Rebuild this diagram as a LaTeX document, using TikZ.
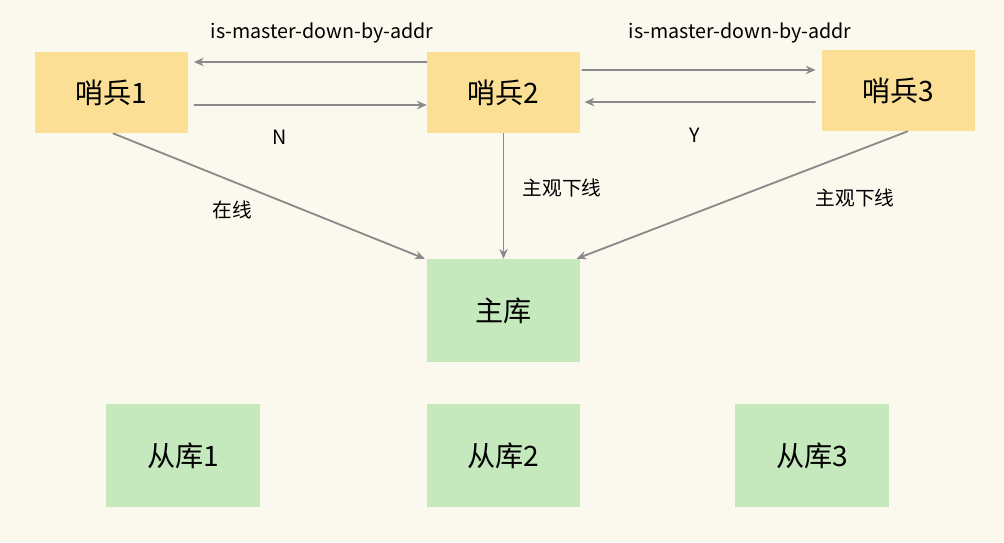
\documentclass[tikz,border=0pt]{standalone}
\usepackage{fontspec}
\setmainfont{Noto Sans CJK SC}
\usetikzlibrary{arrows.meta}
\definecolor{bg}{HTML}{FBF8EE}
\definecolor{yel}{HTML}{FBDF94}
\definecolor{grn}{HTML}{C5E8BD}
\definecolor{arr}{HTML}{8A8A8A}
\begin{document}
\begin{tikzpicture}[x=0.025cm,y=-0.025cm,
  sent/.style={fill=yel,minimum width=153*0.711pt,minimum height=81*0.711pt,font=\fontsize{20}{24}\selectfont,inner sep=0},
  db/.style={fill=grn,minimum width=154*0.711pt,minimum height=103*0.711pt,font=\fontsize{20}{24}\selectfont,inner sep=0},
  con/.style={draw=arr,line width=1.3pt,-{Stealth[length=7pt,width=6pt]}},
  lab/.style={font=\fontsize{14}{17}\selectfont}]
\fill[bg] (0,0) rectangle (1004,542);
\useasboundingbox (0,0) rectangle (1004,542);
\node[sent] (s1) at (111.5,92.5) {哨兵1};
\node[sent] (s2) at (503.5,92.5) {哨兵2};
\node[sent] (s3) at (898,90.5) {哨兵3};
\node[db] (m) at (503.5,310.5) {主库};
\node[db] (r1) at (183,455.5) {从库1};
\node[db] (r2) at (503.5,455.5) {从库2};
\node[db] (r3) at (812,455.5) {从库3};
\draw[con,shorten >=4pt] ([yshift=21.7pt]s2.west) -- ([yshift=21.7pt]s1.east);
\draw[con,shorten <=4pt] ([yshift=-8.9pt]s1.east) -- ([yshift=-8.9pt]s2.west);
\draw[con,shorten <=1pt,shorten >=4pt] ([yshift=16pt]s2.east) -- ([yshift=14.6pt]s3.west);
\draw[con,shorten <=4pt,shorten >=3pt] ([yshift=-8.2pt]s3.west) -- ([yshift=-6.8pt]s2.east);
\node[lab] (l1) at (322,33) {is-master-down-by-addr};
\node[lab] (l2) at (740,33) {is-master-down-by-addr};
\node[lab] (ln) at (280,137) {N};
\node[lab] (ly) at (695,135) {Y};
\draw[con] ([xshift=1pt]s1.south) -- ([xshift=-1pt]m.north west);
\draw[con] (s2.south) -- (m.north);
\draw[con] ([xshift=7pt]s3.south) -- ([xshift=-3pt]m.north east);
\node[lab] (la) at (232,210) {在线};
\node[lab] (lb) at (562,188) {主观下线};
\node[lab] (lc) at (855,198) {主观下线};
\end{tikzpicture}
\end{document}
